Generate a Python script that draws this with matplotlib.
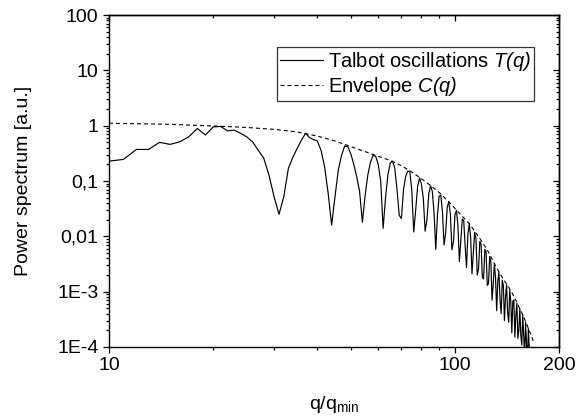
# Talbot oscillations and envelope of the power spectrum (log-log)
import numpy as np
import matplotlib
matplotlib.use('Agg')
import matplotlib.pyplot as plt
from matplotlib.ticker import FixedLocator, LogLocator, NullFormatter, FixedFormatter

plt.rcParams['font.family'] = ['Liberation Sans', 'DejaVu Sans']
plt.rcParams['mathtext.fontset'] = 'custom'
# rm is italic so that the brackets in T(q) come out slanted too; sf is used for upright text
plt.rcParams['mathtext.rm'] = 'Liberation Sans:italic'
plt.rcParams['mathtext.it'] = 'Liberation Sans:italic'
plt.rcParams['mathtext.sf'] = 'Liberation Sans'

# Data: T(q) at integer q = 10 ... 165
q = np.arange(10, 166)
talbot = [
    0.229, 0.246, 0.372, 0.372, 0.50, 0.46, 0.51, 0.63, 0.89, 0.68,
    0.95, 0.97, 0.81, 0.83, 0.73, 0.63, 0.51, 0.36, 0.26, 0.128,
    0.052, 0.025, 0.052, 0.169, 0.27, 0.39, 0.55, 0.73, 0.61, 0.56,
    0.53, 0.36, 0.18, 0.06, 0.016, 0.052, 0.157, 0.29, 0.43, 0.42,
    0.31, 0.20, 0.12, 0.065, 0.018, 0.055, 0.13, 0.22, 0.29, 0.28,
    0.20, 0.10, 0.014, 0.05, 0.13, 0.21, 0.23, 0.17, 0.07, 0.024,
    0.021, 0.07, 0.12, 0.15, 0.15, 0.07, 0.012, 0.030, 0.080, 0.114,
    0.087, 0.049, 0.0124, 0.020, 0.058, 0.082, 0.065, 0.027, 0.0058, 0.024,
    0.053, 0.056, 0.028, 0.0070, 0.0114, 0.034, 0.042, 0.025, 0.0057, 0.0079,
    0.0246, 0.0296, 0.0156, 0.0035, 0.0084, 0.0206, 0.0194, 0.0068, 0.0027, 0.0111,
    0.017, 0.0096, 0.0021, 0.0051, 0.0118, 0.0090, 0.0020, 0.0026, 0.0081, 0.0072,
    0.0018, 0.0017, 0.0058, 0.0053, 0.0013, 0.0014, 0.0043, 0.0034, 0.0007, 0.00135,
    0.0032, 0.00178, 0.00045, 0.00154, 0.00225, 0.00071, 0.0004, 0.00161, 0.00129, 0.0003,
    0.00079, 0.00134, 0.00042, 0.00028, 0.00106, 0.00067, 0.00018, 0.00067, 0.00071, 0.00015,
    0.00037, 0.00062, 0.000143, 0.000198, 0.00049, 0.000162, 0.000108, 0.00038, 0.000154, 0.000069,
    0.00028, 0.000123, 0.00005, 0.000215, 0.000093, 0.000042,
]

# Envelope C(q)
q_env = [10, 15, 20, 25, 30, 35, 40, 45, 50, 55, 60, 65, 70, 75, 80, 85, 90,
         95, 100, 105, 110, 115, 120, 125, 130, 135, 140, 145, 150, 155, 160, 165, 169]
envelope = [1.11, 1.06, 0.99, 0.93, 0.86, 0.77, 0.65, 0.53, 0.42, 0.34, 0.28, 0.235,
            0.19, 0.145, 0.11, 0.083, 0.062, 0.045, 0.032, 0.023, 0.017, 0.0115,
            0.0078, 0.0052, 0.0032, 0.0021, 0.00145, 0.00105, 0.0007, 0.00045,
            0.00029, 0.00018, 0.00012]

x_ticks = [10, 100, 200]
y_ticks = [1e-4, 1e-3, 1e-2, 1e-1, 1, 10, 100]
y_labels = ['1E-4', '1E-3', '0,01', '0,1', '1', '10', '100']

fig = plt.figure(figsize=(5.83, 4.2), dpi=100)
ax = fig.add_axes([0.187, 0.174, 0.772, 0.79])

ax.plot(q, talbot, color='black', lw=0.85, label='Talbot oscillations $T(q)$')
ax.plot(q_env, envelope, color='black', lw=0.8, dashes=(3.6, 2.7),
        label='Envelope $C(q)$')

ax.set_xscale('log')
ax.set_yscale('log')
ax.set_xlim(10, 200)
ax.set_ylim(1e-4, 100)

ax.xaxis.set_major_locator(FixedLocator(x_ticks))
ax.xaxis.set_major_formatter(FixedFormatter([str(v) for v in x_ticks]))
ax.xaxis.set_minor_locator(LogLocator(base=10, subs=np.arange(2, 10), numticks=20))
ax.xaxis.set_minor_formatter(NullFormatter())
ax.yaxis.set_major_locator(FixedLocator(y_ticks))
ax.yaxis.set_major_formatter(FixedFormatter(y_labels))
ax.yaxis.set_minor_locator(LogLocator(base=10, subs=np.arange(2, 10), numticks=20))
ax.yaxis.set_minor_formatter(NullFormatter())

ax.tick_params(which='both', direction='out', labelsize=14, width=0.9, pad=3)
ax.tick_params(which='major', length=4.5)
ax.tick_params(which='minor', length=2.4)
for s in ax.spines.values():
    s.set_linewidth(1.0)

# top and right ticks point inward
top = ax.secondary_xaxis('top')
top.xaxis.set_major_locator(FixedLocator(x_ticks))
top.xaxis.set_minor_locator(LogLocator(base=10, subs=np.arange(2, 10), numticks=20))
top.tick_params(which='both', direction='in', labeltop=False, width=0.9)
top.tick_params(which='major', length=4.5)
top.tick_params(which='minor', length=2.4)
top.spines['top'].set_linewidth(1.0)

right = ax.secondary_yaxis('right')
right.yaxis.set_major_locator(FixedLocator(y_ticks))
right.yaxis.set_minor_locator(LogLocator(base=10, subs=np.arange(2, 10), numticks=20))
right.tick_params(which='both', direction='in', labelright=False, width=0.9)
right.tick_params(which='major', length=4.5)
right.tick_params(which='minor', length=2.4)
right.spines['right'].set_linewidth(1.0)

ax.set_xlabel('q/q$_{\\mathsf{min}}$', fontsize=14, labelpad=14)
ax.set_ylabel('Power spectrum [a.u.]', fontsize=14, labelpad=18)

leg = ax.legend(loc='upper right', bbox_to_anchor=(0.944, 0.904), borderaxespad=0,
                fontsize=14.5, frameon=True, fancybox=False, shadow=False,
                handlelength=2.1, handletextpad=0.25, labelspacing=0.12,
                borderpad=0.15)
leg.get_frame().set_edgecolor('black')
leg.get_frame().set_linewidth(0.9)

plt.savefig('out.png', dpi=100)
